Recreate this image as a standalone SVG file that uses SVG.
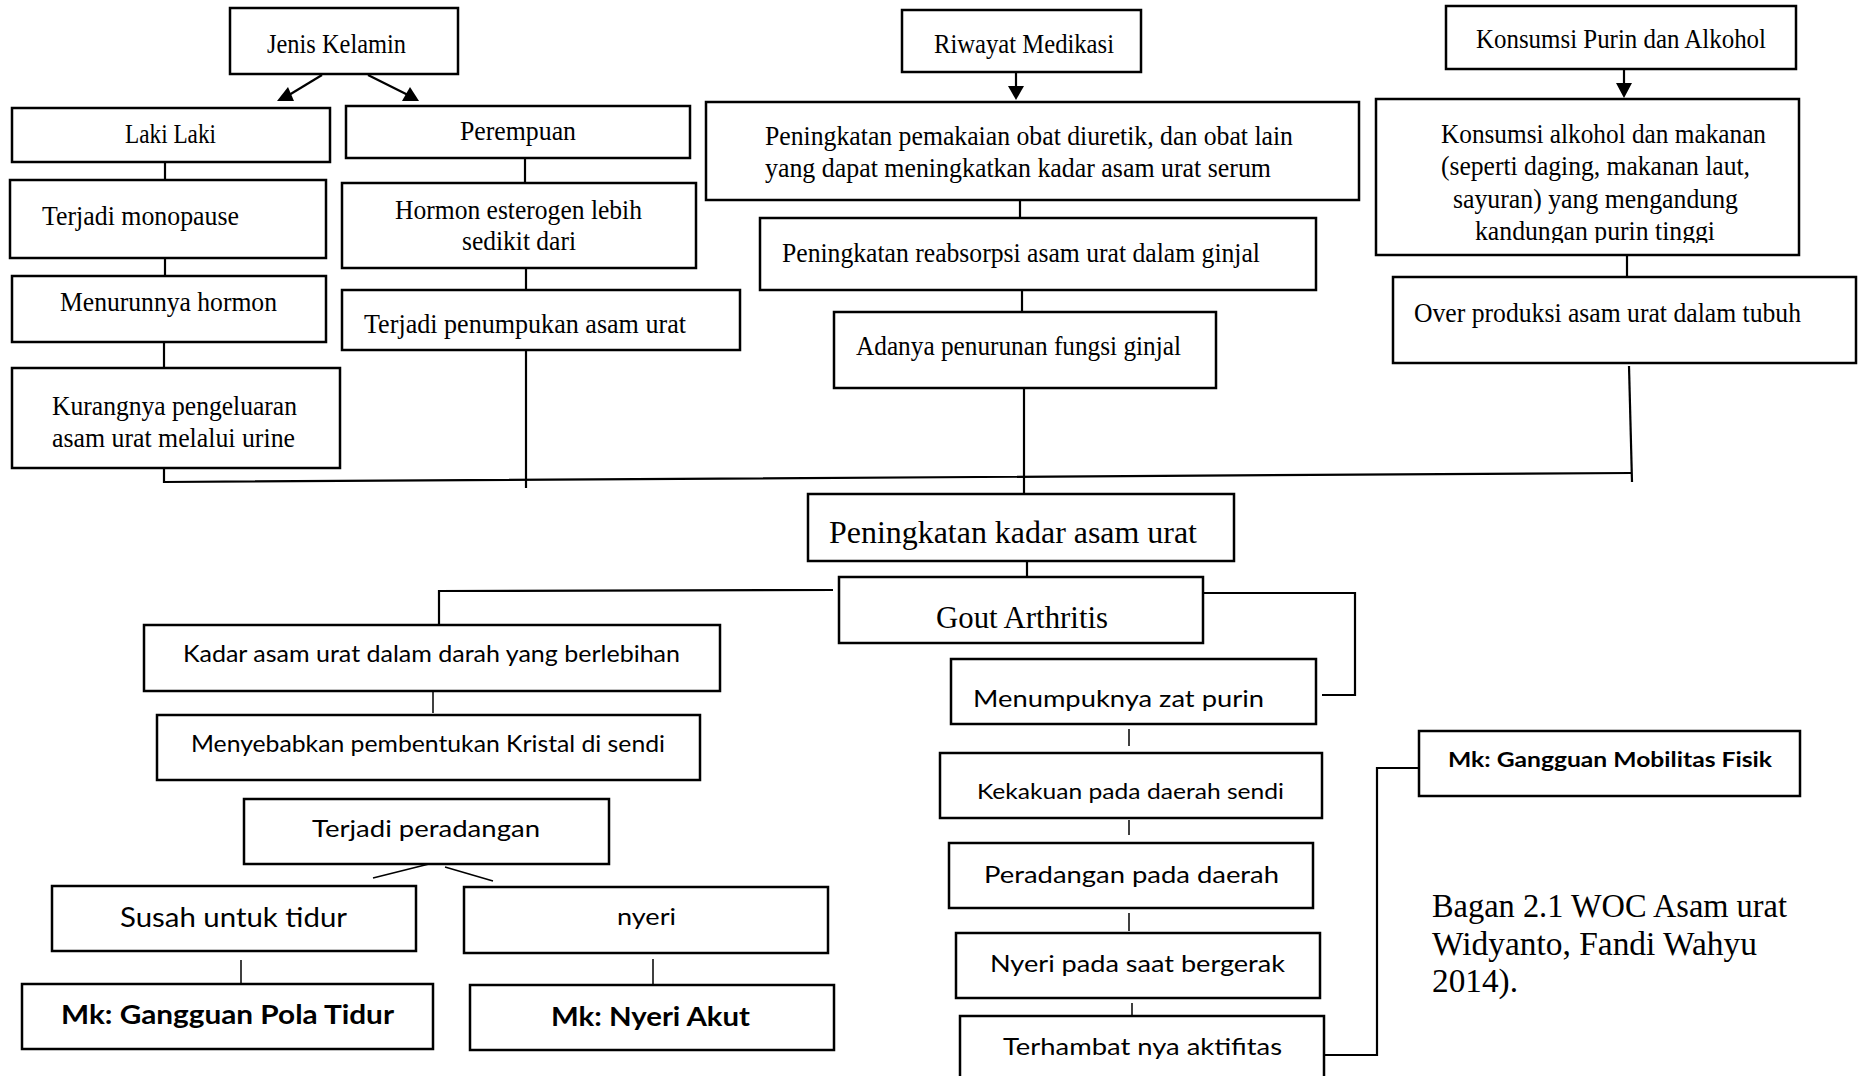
<svg xmlns="http://www.w3.org/2000/svg" width="1858" height="1076" viewBox="0 0 1858 1076">
<defs>
<style>
.b{fill:#fff;stroke:#000;stroke-width:2.5}
.l{fill:none;stroke:#000;stroke-width:2.2}
.t{fill:none;stroke:#000;stroke-width:1.5}
.s{font-family:"Liberation Serif","Times New Roman",serif;font-size:27px;fill:#000}
.c{font-family:Lato,"Liberation Sans",sans-serif;font-size:24px;fill:#000}
.cb{font-family:Lato,"Liberation Sans",sans-serif;font-size:26px;font-weight:bold;fill:#000}
</style>
<clipPath id="clipK"><rect x="1376" y="99" width="423" height="144"/></clipPath>
</defs>
<rect x="0" y="0" width="1858" height="1076" fill="#fff"/>

<g id="connectors">
<line class="l" x1="322" y1="75" x2="289" y2="95"/>
<polygon points="277,101 294,101 288,87" fill="#000"/>
<line class="l" x1="368" y1="75" x2="410" y2="96"/>
<polygon points="402,101 419,101 410,87" fill="#000"/>
<line class="l" x1="165" y1="162" x2="165" y2="180"/>
<line class="l" x1="165" y1="258" x2="165" y2="276"/>
<line class="l" x1="164" y1="342" x2="164" y2="368"/>
<line class="l" x1="525" y1="158" x2="525" y2="183"/>
<line class="l" x1="526" y1="268" x2="526" y2="290"/>
<line class="l" x1="526" y1="350" x2="526" y2="488"/>
<path class="l" d="M164,468 V482 L1632,473"/>
<line class="l" x1="1016" y1="72" x2="1016" y2="88"/>
<polygon points="1008,86 1024,86 1016,100" fill="#000"/>
<line class="l" x1="1020" y1="200" x2="1020" y2="218"/>
<line class="l" x1="1022" y1="290" x2="1022" y2="312"/>
<line class="l" x1="1024" y1="388" x2="1024" y2="494"/>
<line class="l" x1="1624" y1="69" x2="1624" y2="84"/>
<polygon points="1616,83 1632,83 1624,98" fill="#000"/>
<line class="l" x1="1627" y1="255" x2="1627" y2="277"/>
<line class="l" x1="1629" y1="366" x2="1632" y2="482"/>
<line class="l" x1="1027" y1="561" x2="1027" y2="577"/>
<path class="l" d="M833,590 L439,591 V627"/>
<path class="l" d="M1203,593 H1355 V695 H1322"/>
<line class="t" x1="433" y1="687" x2="433" y2="713"/>
<line class="t" x1="435" y1="738" x2="435" y2="752"/>
<line class="t" x1="441" y1="825" x2="441" y2="835"/>
<line class="t" x1="429" y1="864" x2="373" y2="878"/>
<line class="t" x1="445" y1="867" x2="493" y2="881"/>
<line class="t" x1="241" y1="960" x2="241" y2="988"/>
<line class="t" x1="653" y1="959" x2="653" y2="985"/>
<line class="t" x1="1129" y1="729" x2="1129" y2="746"/>
<line class="t" x1="1129" y1="820" x2="1129" y2="835"/>
<line class="t" x1="1129" y1="913" x2="1129" y2="931"/>
<line class="t" x1="1132" y1="1003" x2="1132" y2="1019"/>
<path class="l" d="M1324,1055 H1377 V768 H1419"/>
</g>

<g id="n-jenis"><rect class="b" x="230" y="8" width="228" height="66"/><text class="s" x="267" y="53" textLength="139" lengthAdjust="spacingAndGlyphs">Jenis Kelamin</text></g>
<g id="n-laki"><rect class="b" x="12" y="108" width="318" height="54"/><text class="s" x="125" y="143" textLength="91" lengthAdjust="spacingAndGlyphs">Laki Laki</text></g>
<g id="n-perempuan"><rect class="b" x="346" y="106" width="344" height="52"/><text class="s" x="460" y="140" textLength="116" lengthAdjust="spacingAndGlyphs">Perempuan</text></g>
<g id="n-monopause"><rect class="b" x="10" y="180" width="316" height="78"/><text class="s" x="42" y="225" textLength="197" lengthAdjust="spacingAndGlyphs">Terjadi monopause</text></g>
<g id="n-menurun"><rect class="b" x="12" y="276" width="314" height="66"/><text class="s" x="60" y="311" textLength="217" lengthAdjust="spacingAndGlyphs">Menurunnya hormon</text></g>
<g id="n-kurang"><rect class="b" x="12" y="368" width="328" height="100"/><text class="s" x="52" y="415" textLength="245" lengthAdjust="spacingAndGlyphs">Kurangnya pengeluaran</text><text class="s" x="52" y="447" textLength="243" lengthAdjust="spacingAndGlyphs">asam urat melalui urine</text></g>
<g id="n-hormon"><rect class="b" x="342" y="183" width="354" height="85"/><text class="s" x="395" y="219" textLength="247" lengthAdjust="spacingAndGlyphs">Hormon esterogen lebih</text><text class="s" x="462" y="250" textLength="114" lengthAdjust="spacingAndGlyphs">sedikit dari</text></g>
<g id="n-penumpukan"><rect class="b" x="342" y="290" width="398" height="60"/><text class="s" x="364" y="333" textLength="322" lengthAdjust="spacingAndGlyphs">Terjadi penumpukan asam urat</text></g>

<g id="n-riwayat"><rect class="b" x="902" y="10" width="239" height="62"/><text class="s" x="934" y="53" textLength="180" lengthAdjust="spacingAndGlyphs">Riwayat Medikasi</text></g>
<g id="n-pemakaian"><rect class="b" x="706" y="102" width="653" height="98"/><text class="s" x="765" y="145" textLength="528" lengthAdjust="spacingAndGlyphs">Peningkatan pemakaian obat diuretik, dan obat lain</text><text class="s" x="765" y="177" textLength="506" lengthAdjust="spacingAndGlyphs">yang dapat meningkatkan kadar asam urat serum</text></g>
<g id="n-reabsorpsi"><rect class="b" x="760" y="218" width="556" height="72"/><text class="s" x="782" y="262" textLength="478" lengthAdjust="spacingAndGlyphs">Peningkatan reabsorpsi asam urat dalam ginjal</text></g>
<g id="n-adanya"><rect class="b" x="834" y="312" width="382" height="76"/><text class="s" x="856" y="355" textLength="325" lengthAdjust="spacingAndGlyphs">Adanya penurunan fungsi ginjal</text></g>

<g id="n-konsumsi"><rect class="b" x="1446" y="6" width="350" height="63"/><text class="s" x="1476" y="48" textLength="290" lengthAdjust="spacingAndGlyphs">Konsumsi Purin dan Alkohol</text></g>
<g id="n-alkohol"><rect class="b" x="1376" y="99" width="423" height="156"/>
<g clip-path="url(#clipK)">
<text class="s" x="1441" y="143" textLength="325" lengthAdjust="spacingAndGlyphs">Konsumsi alkohol dan makanan</text>
<text class="s" x="1441" y="175" textLength="309" lengthAdjust="spacingAndGlyphs">(seperti daging, makanan laut,</text>
<text class="s" x="1453" y="208" textLength="285" lengthAdjust="spacingAndGlyphs">sayuran) yang mengandung</text>
<text class="s" x="1475" y="240" textLength="240" lengthAdjust="spacingAndGlyphs">kandungan purin tinggi</text>
</g></g>
<g id="n-over"><rect class="b" x="1393" y="277" width="463" height="86"/><text class="s" x="1414" y="322" textLength="387" lengthAdjust="spacingAndGlyphs">Over produksi asam urat dalam tubuh</text></g>

<g id="n-kadar-naik"><rect class="b" x="808" y="494" width="426" height="67"/><text class="s" x="829" y="543" style="font-size:31px" textLength="368" lengthAdjust="spacingAndGlyphs">Peningkatan kadar asam urat</text></g>
<g id="n-gout"><rect class="b" x="839" y="577" width="364" height="66"/><text class="s" x="936" y="628" style="font-size:31px" textLength="172" lengthAdjust="spacingAndGlyphs">Gout Arthritis</text></g>

<g id="n-kadar"><rect class="b" x="144" y="625" width="576" height="66"/><text class="c" x="183" y="662" textLength="497" lengthAdjust="spacingAndGlyphs">Kadar asam urat dalam darah yang berlebihan</text></g>
<g id="n-kristal"><rect class="b" x="157" y="715" width="543" height="65"/><text class="c" x="191" y="752" textLength="474" lengthAdjust="spacingAndGlyphs">Menyebabkan pembentukan Kristal di sendi</text></g>
<g id="n-radang"><rect class="b" x="244" y="799" width="365" height="65"/><text class="c" x="312" y="837" textLength="228" lengthAdjust="spacingAndGlyphs">Terjadi peradangan</text></g>
<g id="n-susah"><rect class="b" x="52" y="886" width="364" height="65"/><text class="c" x="120" y="927" style="font-size:26px" textLength="227" lengthAdjust="spacingAndGlyphs">Susah untuk tidur</text></g>
<g id="n-nyeri"><rect class="b" x="464" y="887" width="364" height="66"/><text class="c" x="617" y="925" textLength="59" lengthAdjust="spacingAndGlyphs">nyeri</text></g>
<g id="n-mk-tidur"><rect class="b" x="22" y="984" width="411" height="65"/><text class="cb" x="61" y="1024" textLength="333" lengthAdjust="spacingAndGlyphs">Mk: Gangguan Pola Tidur</text></g>
<g id="n-mk-nyeri"><rect class="b" x="470" y="985" width="364" height="65"/><text class="cb" x="551" y="1026" textLength="199" lengthAdjust="spacingAndGlyphs">Mk: Nyeri Akut</text></g>

<g id="n-purin"><rect class="b" x="951" y="659" width="365" height="65"/><text class="c" x="973" y="707" textLength="291" lengthAdjust="spacingAndGlyphs">Menumpuknya zat purin</text></g>
<g id="n-kaku"><rect class="b" x="940" y="753" width="382" height="65"/><text class="c" x="977" y="799" style="font-size:22px" textLength="307" lengthAdjust="spacingAndGlyphs">Kekakuan pada daerah sendi</text></g>
<g id="n-radang-daerah"><rect class="b" x="949" y="843" width="364" height="65"/><text class="c" x="984" y="883" textLength="295" lengthAdjust="spacingAndGlyphs">Peradangan pada daerah</text></g>
<g id="n-nyeri-gerak"><rect class="b" x="956" y="933" width="364" height="65"/><text class="c" x="990" y="972" textLength="295" lengthAdjust="spacingAndGlyphs">Nyeri pada saat bergerak</text></g>
<g id="n-terhambat"><rect class="b" x="960" y="1016" width="364" height="80"/><text class="c" x="1003" y="1055" textLength="279" lengthAdjust="spacingAndGlyphs">Terhambat nya aktifitas</text></g>
<g id="n-mk-mobilitas"><rect class="b" x="1419" y="731" width="381" height="65"/><text class="cb" x="1448" y="767" style="font-size:21px" textLength="324" lengthAdjust="spacingAndGlyphs">Mk: Gangguan Mobilitas Fisik</text></g>

<g id="caption">
<text class="s" x="1432" y="917" style="font-size:34px" textLength="355" lengthAdjust="spacingAndGlyphs">Bagan 2.1 WOC Asam urat</text>
<text class="s" x="1432" y="955" style="font-size:34px" textLength="325" lengthAdjust="spacingAndGlyphs">Widyanto, Fandi Wahyu</text>
<text class="s" x="1432" y="992" style="font-size:34px" textLength="86" lengthAdjust="spacingAndGlyphs">2014).</text>
</g>
</svg>
